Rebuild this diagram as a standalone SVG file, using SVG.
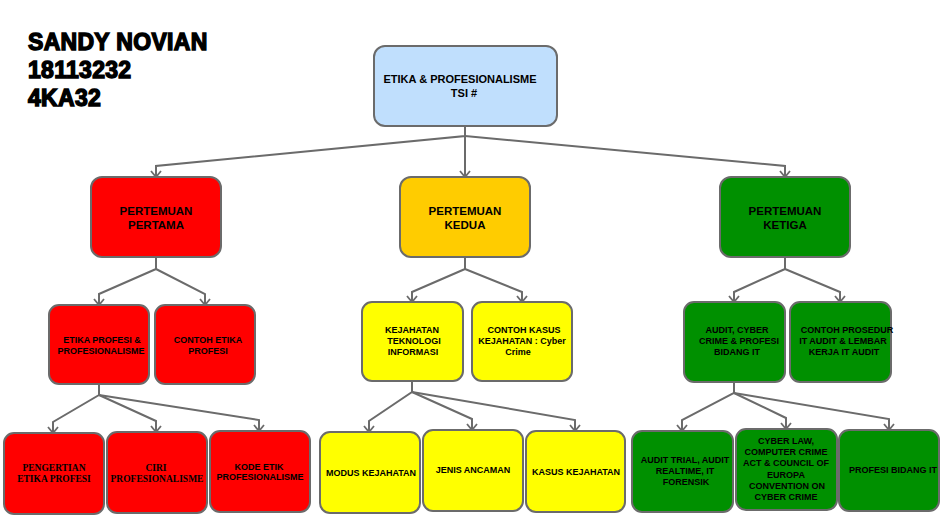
<svg xmlns="http://www.w3.org/2000/svg" width="945" height="519" viewBox="0 0 945 519">
<style>
.n{stroke:#6b6b6b;stroke-width:2}
.blue{fill:#c0dffd}.red{fill:#ff0000}.org{fill:#ffcc00}.yel{fill:#ffff00}.grn{fill:#009000}
text{font-family:"Liberation Sans",Arial,sans-serif;font-weight:bold;fill:#000;text-anchor:middle}
.t1{font-size:11px}.t2{font-size:11.5px}.t3{font-size:9px}.t4{font-size:9px}
.serif{font-family:"Liberation Serif","Times New Roman",serif;font-size:9.5px}
.c{fill:none;stroke:#6b6b6b;stroke-width:2;marker-end:url(#ah)}
.title{font-size:23px;text-anchor:start;stroke:#000;stroke-width:1.4;letter-spacing:0.3px}
</style>
<defs>
<marker id="ah" viewBox="0 0 12 12" refX="10" refY="6" markerWidth="12" markerHeight="12" markerUnits="userSpaceOnUse" orient="auto">
<path d="M4,1 L10,6 L4,11" fill="none" stroke="#6b6b6b" stroke-width="1.8"/>
</marker>
</defs>
<g id="title">
<text class="title" x="28" y="50">SANDY NOVIAN</text>
<text class="title" x="28" y="78">18113232</text>
<text class="title" x="28" y="106">4KA32</text>
</g>
<g id="connectors">
<path class="c" d="M465,127 L465,136 L156,166 L156,177"/>
<path class="c" d="M465,136 L465,177"/>
<path class="c" d="M465,136 L785,166 L785,177"/>
<path class="c" d="M156,258 L156,269 L99,294 L99,305"/>
<path class="c" d="M156,269 L205,294 L205,305"/>
<path class="c" d="M465,258 L465,269 L412,292 L412,302"/>
<path class="c" d="M465,269 L522,292 L522,302"/>
<path class="c" d="M785,258 L785,269 L734,292 L734,302"/>
<path class="c" d="M785,269 L840,292 L840,302"/>
<path class="c" d="M99,384 L99,395 L53,422 L53,433"/>
<path class="c" d="M99,395 L156,421 L156,432"/>
<path class="c" d="M99,395 L259,420 L259,431"/>
<path class="c" d="M412,381 L412,392 L369,421 L369,432"/>
<path class="c" d="M412,392 L472,419 L472,430"/>
<path class="c" d="M412,392 L575,420 L575,431"/>
<path class="c" d="M734,382 L734,393 L682,420 L682,431"/>
<path class="c" d="M734,393 L786,418 L786,429"/>
<path class="c" d="M734,393 L889,419 L889,430"/>
</g>
<g id="root">
<rect class="n blue" x="374" y="46" width="183" height="80" rx="11"/>
<text class="t1" x="460" y="83">ETIKA &amp; PROFESIONALISME</text>
<text class="t1" x="464" y="97">TSI #</text>
</g>
<g id="pertama">
<rect class="n red" x="91" y="177" width="130" height="80" rx="11"/>
<text class="t2" x="156" y="215">PERTEMUAN</text>
<text class="t2" x="156" y="229">PERTAMA</text>
</g>
<g id="kedua">
<rect class="n org" x="400" y="177" width="130" height="80" rx="11"/>
<text class="t2" x="465" y="215">PERTEMUAN</text>
<text class="t2" x="465" y="229">KEDUA</text>
</g>
<g id="ketiga">
<rect class="n grn" x="720" y="177" width="130" height="80" rx="11"/>
<text class="t2" x="785" y="215">PERTEMUAN</text>
<text class="t2" x="785" y="229">KETIGA</text>
</g>
<g id="etika-profesi">
<rect class="n red" x="49" y="305" width="100" height="79" rx="10"/>
<text class="t3" x="102" y="343">ETIKA PROFESI &amp;</text>
<text class="t3" x="101" y="354">PROFESIONALISME</text>
</g>
<g id="contoh-etika">
<rect class="n red" x="155" y="305" width="100" height="79" rx="10"/>
<text class="t3" x="208" y="343">CONTOH ETIKA</text>
<text class="t3" x="208" y="354">PROFESI</text>
</g>
<g id="kejahatan-ti">
<rect class="n yel" x="362" y="302" width="101" height="79" rx="10"/>
<text class="t3" x="412" y="333">KEJAHATAN</text>
<text class="t3" x="414" y="344">TEKNOLOGI</text>
<text class="t3" x="413" y="355">INFORMASI</text>
</g>
<g id="contoh-kasus">
<rect class="n yel" x="472" y="302" width="100" height="79" rx="10"/>
<text class="t3" x="524" y="333">CONTOH KASUS</text>
<text class="t3" x="522" y="344">KEJAHATAN : Cyber</text>
<text class="t3" x="518" y="355">Crime</text>
</g>
<g id="audit-cyber">
<rect class="n grn" x="684" y="302" width="101" height="80" rx="10"/>
<text class="t3" x="737" y="333">AUDIT, CYBER</text>
<text class="t3" x="739" y="344">CRIME &amp; PROFESI</text>
<text class="t3" x="737" y="355">BIDANG IT</text>
</g>
<g id="contoh-prosedur">
<rect class="n grn" x="790" y="302" width="101" height="80" rx="10"/>
<text class="t3" x="847" y="333">CONTOH PROSEDUR</text>
<text class="t3" x="843" y="344">IT AUDIT &amp; LEMBAR</text>
<text class="t3" x="844" y="355">KERJA IT AUDIT</text>
</g>
<g id="pengertian">
<rect class="n red" x="4" y="433" width="100" height="81" rx="10"/>
<text class="serif" x="54" y="471">PENGERTIAN</text>
<text class="serif" x="54" y="482">ETIKA PROFESI</text>
</g>
<g id="ciri">
<rect class="n red" x="107" y="432" width="100" height="81" rx="10"/>
<text class="serif" x="156" y="471">CIRI</text>
<text class="serif" x="157" y="482">PROFESIONALISME</text>
</g>
<g id="kode-etik">
<rect class="n red" x="210" y="431" width="100" height="81" rx="10"/>
<text class="t4" x="259" y="470">KODE ETIK</text>
<text class="t4" x="260" y="480">PROFESIONALISME</text>
</g>
<g id="modus">
<rect class="n yel" x="320" y="432" width="100" height="81" rx="10"/>
<text class="t4" x="371" y="476">MODUS KEJAHATAN</text>
</g>
<g id="jenis">
<rect class="n yel" x="423" y="430" width="100" height="81" rx="10"/>
<text class="t4" x="473" y="473">JENIS ANCAMAN</text>
</g>
<g id="kasus">
<rect class="n yel" x="526" y="431" width="99" height="81" rx="10"/>
<text class="t4" x="576" y="475">KASUS KEJAHATAN</text>
</g>
<g id="audit-trial">
<rect class="n grn" x="632" y="431" width="101" height="81" rx="10"/>
<text class="t4" x="685" y="463">AUDIT TRIAL, AUDIT</text>
<text class="t4" x="685" y="474">REALTIME, IT</text>
<text class="t4" x="686" y="485">FORENSIK</text>
</g>
<g id="cyber-law">
<rect class="n grn" x="736" y="429" width="101" height="81" rx="10"/>
<text class="t4" x="786" y="444">CYBER LAW,</text>
<text class="t4" x="786" y="455">COMPUTER CRIME</text>
<text class="t4" x="786" y="466">ACT &amp; COUNCIL OF</text>
<text class="t4" x="786" y="478">EUROPA</text>
<text class="t4" x="787" y="489">CONVENTION ON</text>
<text class="t4" x="786" y="500">CYBER CRIME</text>
</g>
<g id="profesi-bidang">
<rect class="n grn" x="839" y="430" width="100" height="81" rx="10"/>
<text class="t4" x="893" y="473">PROFESI BIDANG IT</text>
</g>
</svg>
